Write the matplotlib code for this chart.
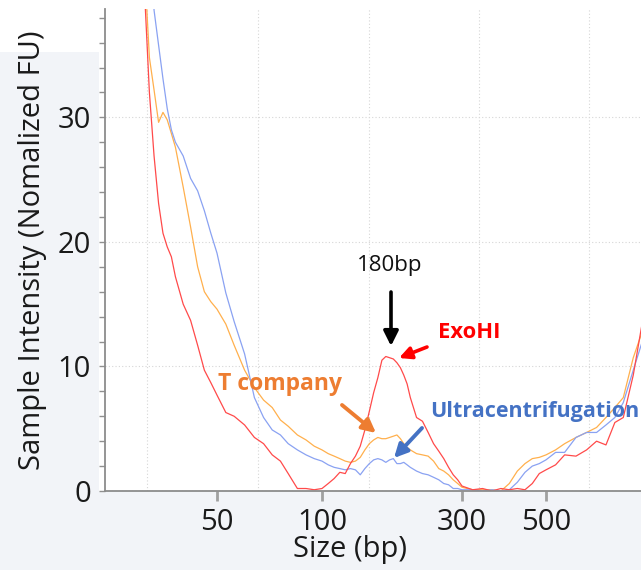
import numpy as np
import matplotlib
matplotlib.use("Agg")
import matplotlib.pyplot as plt
from matplotlib.patches import Rectangle
from matplotlib.ticker import FixedLocator, MultipleLocator

plt.rcParams["font.family"] = ["Open Sans", "DejaVu Sans"]

# fragment size (bp) and normalized fluorescence of each sample
size_bp = [30, 31, 32, 33, 34, 35, 36, 37, 38, 40, 42, 44, 46, 48, 50, 53, 56, 60,
           64, 68, 72, 76, 80, 85, 90, 95, 100, 105, 110, 115, 120, 125, 130, 135,
           140, 145, 150, 155, 160, 165, 170, 175, 180, 185, 190, 195, 200, 210,
           220, 230, 240, 250, 260, 270, 280, 290, 300, 320, 340, 360, 380, 400,
           420, 440, 460, 480, 500, 530, 560, 600, 640, 680, 720, 760, 800, 850, 900]

exohi = [52, 40, 32.0, 26.9, 23.1, 20.7, 19.6, 18.8, 17.2, 15.0, 13.7, 11.7, 9.7,
         8.7, 7.7, 6.3, 6.0, 5.3, 4.3, 3.8, 2.9, 2.4, 1.4, 0.2, 0.2, 0.1, 0.2, 0.6,
         1.0, 1.5, 1.4, 2.2, 2.8, 3.6, 4.9, 6.4, 7.9, 9.1, 10.5, 10.8, 10.7, 10.6,
         10.3, 9.9, 9.3, 8.6, 7.5, 5.9, 5.6, 4.7, 3.8, 3.2, 2.6, 1.9, 1.3, 0.9, 0.4,
         0.1, 0.2, 0.0, 0.2, 0.1, 0.2, 0.1, 0.6, 1.4, 1.7, 2.1, 2.9, 2.8, 3.3, 4.0,
         3.7, 5.5, 5.9, 9.3, 13.7]

t_company = [55, 42, 34.8, 32.2, 29.6, 30.4, 29.8, 28.7, 27.6, 24.4, 21.2, 18.0,
             16.0, 15.2, 14.6, 13.4, 11.7, 9.7, 8.3, 7.3, 6.7, 5.7, 5.2, 4.5, 4.1,
             3.6, 3.3, 3.0, 2.8, 2.6, 2.4, 2.3, 2.4, 2.7, 3.3, 3.8, 4.1, 4.3, 4.2,
             4.2, 4.3, 4.4, 4.5, 4.2, 3.8, 3.5, 3.3, 3.0, 2.9, 2.8, 2.4, 1.8, 1.6,
             1.3, 0.9, 0.6, 0.3, 0.1, 0.1, 0.1, 0.0, 0.6, 1.6, 2.2, 2.6, 2.7, 2.9,
             3.3, 3.8, 4.3, 4.7, 5.1, 5.9, 6.7, 7.5, 10.7, 12.9]

ultracentrifugation = [60, 52, 45, 38.6, 35.8, 33.1, 30.7, 29.0, 28.0, 26.9, 25.1,
                       24.1, 22.5, 20.7, 19.1, 15.9, 13.6, 11.0, 7.5, 5.9, 4.9, 4.5,
                       3.8, 3.3, 2.9, 2.6, 2.4, 2.1, 1.9, 1.8, 1.7, 1.8, 1.7, 1.3,
                       1.8, 2.2, 2.5, 2.6, 2.5, 2.3, 2.5, 2.6, 2.2, 2.2, 2.3, 2.1,
                       1.9, 1.6, 1.4, 1.3, 1.1, 0.9, 0.6, 0.5, 0.2, 0.2, 0.1, 0.1,
                       0.0, 0.1, 0.0, 0.1, 0.7, 1.5, 2.0, 2.2, 2.5, 3.1, 3.1, 4.3,
                       4.7, 4.7, 5.3, 5.9, 7.1, 9.7, 12.1]

x_ticks = [50, 100, 300, 500]
y_ticks = [0, 10, 20, 30]

# ladder-calibrated size axis: tick sizes sit at these pixel columns
anchor_bp = np.log10([50, 100, 300, 500])
anchor_px = np.array([217.0, 322.0, 462.0, 546.0])


def size_to_px(s):
    s = np.asarray(s, dtype=float)
    ls = np.log10(np.clip(np.atleast_1d(s), 1e-3, None))
    out = np.interp(ls, anchor_bp, anchor_px)
    lo = ls < anchor_bp[0]
    hi = ls > anchor_bp[-1]
    k0 = (anchor_px[1] - anchor_px[0]) / (anchor_bp[1] - anchor_bp[0])
    k1 = (anchor_px[-1] - anchor_px[-2]) / (anchor_bp[-1] - anchor_bp[-2])
    out[lo] = anchor_px[0] + (ls[lo] - anchor_bp[0]) * k0
    out[hi] = anchor_px[-1] + (ls[hi] - anchor_bp[-1]) * k1
    return out.reshape(s.shape)


def px_to_size(p):
    p = np.asarray(p, dtype=float)
    pp = np.atleast_1d(p)
    ls = np.interp(pp, anchor_px, anchor_bp)
    lo = pp < anchor_px[0]
    hi = pp > anchor_px[-1]
    k0 = (anchor_px[1] - anchor_px[0]) / (anchor_bp[1] - anchor_bp[0])
    k1 = (anchor_px[-1] - anchor_px[-2]) / (anchor_bp[-1] - anchor_bp[-2])
    ls[lo] = anchor_bp[0] + (pp[lo] - anchor_px[0]) / k0
    ls[hi] = anchor_bp[-1] + (pp[hi] - anchor_px[-1]) / k1
    return (10 ** ls).reshape(p.shape)


W, H = 641, 570
fig = plt.figure(figsize=(W / 100, H / 100), dpi=100)
fig.patch.set_facecolor("#f2f4f8")
fig.patches.append(Rectangle((99 / W, 79 / H), 1, 1, transform=fig.transFigure,
                             facecolor="white", edgecolor="none", zorder=-5))
fig.patches.append(Rectangle((0, (H - 52) / H), 1, 1, transform=fig.transFigure,
                             facecolor="white", edgecolor="none", zorder=-5))

ax = fig.add_axes([105 / W, 79 / H, 536 / W, 482 / H])
ax.set_xscale("function", functions=(size_to_px, px_to_size))
ax.set_xlim(float(px_to_size(105)), float(px_to_size(641)))
ax.set_ylim(0, 38.7)

ax.plot(size_bp, t_company, color="#ffb04d", lw=0.9)
ax.plot(size_bp, ultracentrifugation, color="#8aa2f2", lw=0.9)
ax.plot(size_bp, exohi, color="#ff4a4a", lw=0.9)

ax.xaxis.set_major_locator(FixedLocator(x_ticks))
ax.set_xticklabels([str(t) for t in x_ticks])
ax.xaxis.set_minor_locator(FixedLocator(px_to_size([147, 258, 369, 479, 589])))
ax.yaxis.set_major_locator(FixedLocator(y_ticks))
ax.yaxis.set_minor_locator(MultipleLocator(2))

ax.grid(True, which="minor", axis="x", color="#d6d6d6", lw=0.8, ls=(0, (1, 2)))
ax.grid(True, which="major", axis="y", color="#d6d6d6", lw=0.8, ls=(0, (1, 2)))

ax.tick_params(axis="x", which="major", length=7, width=2, color="#a0a0a0",
               labelsize=21, pad=5, labelcolor="#1a1a1a")
ax.tick_params(axis="x", which="minor", length=0)
ax.tick_params(axis="y", which="both", length=4, width=1, color="#909090",
               labelsize=21, pad=6, labelcolor="#1a1a1a")

for side in ("top", "right"):
    ax.spines[side].set_visible(False)
for side in ("left", "bottom"):
    ax.spines[side].set_color("#8c8c8c")
    ax.spines[side].set_linewidth(1.3)

ax.set_ylabel("Sample Intensity (Nomalized FU)", fontsize=21, color="#1a1a1a",
              labelpad=8)


def fp(x, y):
    return (x, H - y)


fig.text(350 / W, 1 - 550 / H, "Size (bp)", ha="center", va="center",
         fontsize=21, color="#1a1a1a")

ax.annotate("180bp", xy=fp(390, 265), xycoords="figure pixels", ha="center",
            va="center", fontsize=16, color="#111111")
ax.annotate("", xy=fp(391, 346), xytext=fp(391, 292), xycoords="figure pixels",
            textcoords="figure pixels",
            arrowprops=dict(arrowstyle="-|>", lw=2.6, color="black",
                            mutation_scale=22, shrinkA=0, shrinkB=0))

ax.annotate("ExoHI", xy=fp(438, 333), xycoords="figure pixels", ha="left",
            va="center", fontsize=15.8, fontweight="bold", color="#ff0000")
ax.annotate("", xy=fp(399, 358), xytext=fp(427, 347), xycoords="figure pixels",
            textcoords="figure pixels",
            arrowprops=dict(arrowstyle="-|>", lw=2.6, color="#ff0000",
                            mutation_scale=18, shrinkA=0, shrinkB=0))

ax.annotate("T company", xy=fp(218, 384), xycoords="figure pixels", ha="left",
            va="center", fontsize=16.5, fontweight="bold", color="#ed7d31")
ax.annotate("", xy=fp(376, 433), xytext=fp(342, 405), xycoords="figure pixels",
            textcoords="figure pixels",
            arrowprops=dict(arrowstyle="-|>", lw=2.8, color="#ed7d31",
                            mutation_scale=20, shrinkA=0, shrinkB=0))

ax.annotate("Ultracentrifugation", xy=fp(430, 411), xycoords="figure pixels",
            ha="left", va="center", fontsize=15.5, fontweight="bold",
            color="#4472c4")
ax.annotate("", xy=fp(394, 458), xytext=fp(422, 428), xycoords="figure pixels",
            textcoords="figure pixels",
            arrowprops=dict(arrowstyle="-|>", lw=2.8, color="#4472c4",
                            mutation_scale=20, shrinkA=0, shrinkB=0))

fig.savefig("out.png", dpi=100, facecolor=fig.get_facecolor())
